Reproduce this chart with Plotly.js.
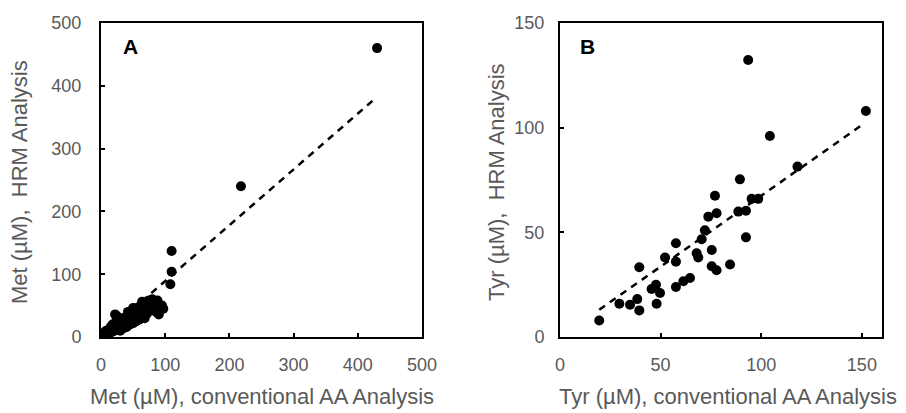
<!DOCTYPE html>
<html>
<head>
<meta charset="utf-8">
<script src="https://cdn.plot.ly/plotly-3.0.1.min.js"></script>
<style>
html,body{margin:0;padding:0;background:#fff;}
#chart{width:906px;height:413px;}
</style>
</head>
<body>
<div id="chart"></div>
<script>
// Panel A: Met (µM)
const metConventional = [2,3,4,5,6,7,8,9,10,11,12,13,14,15,16,17,18,19,20,21,22,22,23,24,25,25,26,27,28,29,30,31,32,33,34,35,36,37,38,39,40,41,42,43,44,45,46,47,48,49,50,52,53,54,55,56,57,58,60,61,62,63,65,66,68,70,72,74,75,78,80,82,85,88,86,90,95,97,
  5,8,12,15,18,24,28,33,38,42,46,50,55,60,64,68,72,76,30,35,40,45,50,55,60,65,70,
  108,110,110,218,430];
const metHRM = [1,3,2,4,3,6,5,4,8,7,6,10,9,12,8,14,11,9,16,13,18,36,12,15,21,33,17,14,23,19,16,25,20,27,22,18,28,24,31,26,21,33,28,35,24,30,37,27,40,33,29,42,36,31,45,38,33,47,40,35,50,44,38,52,46,55,42,50,58,48,60,55,52,58,40,36,50,45,
  7,10,4,16,20,26,14,30,18,40,22,46,25,34,56,30,38,44,10,14,16,20,22,26,28,32,36,
  84,104,137,240,460];
const metTrendX = [2, 425];
const metTrendY = [2, 378];

// Panel B: Tyr (µM)
const tyrConventional = [93.5,152,104.3,118,89.4,77,95.2,98.5,92.4,88.6,77.8,73.7,72,70.4,57.6,75.4,67.9,68.7,52.2,57.6,92.4,84.5,75.4,77.8,39.4,64.6,61.3,57.6,47.7,45.5,49.7,38.4,29.5,34.8,39.4,48,19.5];
const tyrHRM = [132.3,108,96,81.4,75.3,67.5,66,66,60.3,59.9,59.1,57.5,51,46.7,44.8,41.6,40,38,38,36,47.6,34.6,33.8,31.9,33.3,28.2,26.6,23.9,25,22.9,21,18.1,15.9,15.4,12.7,15.9,7.9];
const tyrTrendX = [19.5, 151.5];
const tyrTrendY = [13, 102.3];

const metXTicks = [0,100,200,300,400,500];
const metYTicks = [0,100,200,300,400,500];
const tyrXTicks = [0,50,100,150];
const tyrYTicks = [0,50,100,150];

const FONT = 'Liberation Sans, Arial, sans-serif';
const GRAY = '#595959';
const W = 906, H = 413;
const px = v => v / W;
const py = v => 1 - v / H;

const traces = [
  {x: metConventional, y: metHRM, type: 'scatter', mode: 'markers', xaxis: 'x', yaxis: 'y',
   marker: {color: '#000', size: 10}},
  {x: metTrendX, y: metTrendY, type: 'scatter', mode: 'lines', xaxis: 'x', yaxis: 'y',
   line: {color: '#000', width: 2.5, dash: '7px,6px'}},
  {x: tyrConventional, y: tyrHRM, type: 'scatter', mode: 'markers', xaxis: 'x2', yaxis: 'y2',
   marker: {color: '#000', size: 10}},
  {x: tyrTrendX, y: tyrTrendY, type: 'scatter', mode: 'lines', xaxis: 'x2', yaxis: 'y2',
   line: {color: '#000', width: 2.5, dash: '7px,6px'}}
];

function axis(extra) {
  return Object.assign({
    showgrid: false, zeroline: false, showline: true, mirror: true,
    linecolor: '#000', linewidth: 2,
    ticks: 'inside', ticklen: 4, tickwidth: 2, tickcolor: '#000',
    tickfont: {family: FONT, size: 18, color: GRAY},
    fixedrange: true
  }, extra);
}

function label(text, x, y, size, color, angle, bold) {
  return {text: text, xref: 'paper', yref: 'paper', x: px(x), y: py(y),
    xanchor: 'center', yanchor: 'middle', showarrow: false, textangle: angle || 0,
    font: {family: FONT, size: size, color: color, weight: bold ? 'bold' : 'normal'}};
}

const layout = {
  width: W, height: H,
  margin: {l: 0, r: 0, t: 0, b: 0},
  paper_bgcolor: '#fff', plot_bgcolor: '#fff',
  showlegend: false,
  xaxis: axis({domain: [px(101), px(422)], range: [0, 500], tickvals: metXTicks, ticklabelstandoff: 10, anchor: 'y'}),
  yaxis: axis({domain: [py(337), py(23)], range: [0, 500], tickvals: metYTicks, ticklabelstandoff: 14, anchor: 'x'}),
  xaxis2: axis({domain: [px(560), px(882)], range: [0, 160], tickvals: tyrXTicks, ticklabelstandoff: 10, anchor: 'y2'}),
  yaxis2: axis({domain: [py(337), py(23)], range: [0, 150], tickvals: tyrYTicks, ticklabelstandoff: 10, anchor: 'x2'}),
  annotations: [
    label('A', 130, 46, 21, '#000', 0, true),
    label('B', 587, 46, 21, '#000', 0, true),
    label('Met (µM), conventional AA Analysis', 262, 396, 22, GRAY),
    label('Tyr (µM), conventional AA Analysis', 728, 396, 22, GRAY),
    label('Met (µM),  HRM Analysis', 20, 182, 22, GRAY, -90),
    label('Tyr (µM),  HRM Analysis', 497, 182, 22, GRAY, -90)
  ]
};

Plotly.newPlot('chart', traces, layout, {displayModeBar: false, staticPlot: true});
</script>
</body>
</html>
